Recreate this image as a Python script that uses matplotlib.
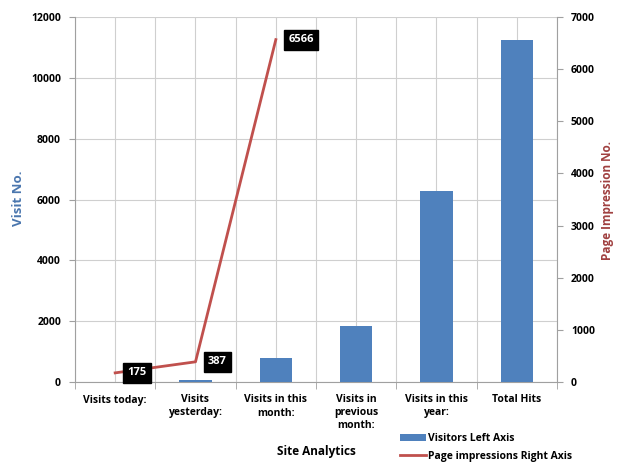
import matplotlib
matplotlib.use("Agg")
import matplotlib.pyplot as plt
import numpy as np

plt.rcParams['font.family'] = ['Open Sans', 'DejaVu Sans']
plt.rcParams['font.weight'] = 'bold'

categories = ["Visits today:", "Visits\nyesterday:", "Visits in this\nmonth:",
              "Visits in\nprevious\nmonth:", "Visits in this\nyear:", "Total Hits"]
visits = [0, 55, 780, 1830, 6270, 11230]
impressions = [175, 387, 6566]

bar_color = '#4F81BD'
line_color = '#C0504D'
grid_color = '#cfcfcf'
axis_color = '#a0a0a0'

fig = plt.figure(figsize=(6.18, 4.63), dpi=100)
ax = fig.add_axes([75/618, 1-382/463, (557-75)/618, (382-17)/463])
ax2 = ax.twinx()

x = np.arange(len(categories))
bars = ax.bar(x, visits, width=0.4, color=bar_color, zorder=3,
              label='Visitors Left Axis')
ax.set_xlim(-0.5, len(categories) - 0.5)
ax.set_ylim(0, 12000)
ax.set_yticks(range(0, 12001, 2000))

ax.set_xticks(x)
ax.set_xticklabels(categories, fontsize=7.5, fontweight='bold', linespacing=1.25)
ax.set_xticks(np.arange(-0.5, len(categories), 1), minor=True)
ax.tick_params(axis='x', which='major', length=0, pad=9)
ax.tick_params(axis='x', which='minor', length=5, color=axis_color, direction='out')
ax.tick_params(axis='y', length=4, color=axis_color, labelsize=7.5, pad=6)
ax.grid(True, axis='both', which='both', color=grid_color, linewidth=0.8, zorder=0)
ax.set_axisbelow(True)

for s in ['top', 'right']:
    ax.spines[s].set_visible(False)
for s in ['left', 'bottom']:
    ax.spines[s].set_color(axis_color)

fig.text(18/618, 1-198/463, 'Visit No.', rotation=90, ha='center', va='center',
         color='#4a76ae', fontsize=9.5, fontweight='bold')

line, = ax2.plot(x[:len(impressions)], impressions, color=line_color, linewidth=2,
                 zorder=4, label='Page impressions Right Axis')
ax2.set_ylim(0, 7000)
ax2.set_yticks(range(0, 7001, 1000))
ax2.tick_params(axis='y', length=4, color=axis_color, labelsize=7.5, pad=6)
for s in ['top', 'left', 'bottom']:
    ax2.spines[s].set_visible(False)
ax2.spines['right'].set_color(axis_color)
fig.text(608/618, 1-200/463, 'Page Impression No.', rotation=90, ha='center',
         va='center', color='#a04040', fontsize=8.5, fontweight='bold')

for xi, v in zip(x, impressions):
    ax2.annotate(str(v), (xi, v), xytext=(9, 0), textcoords='offset points',
                 ha='left', va='center', color='white', fontsize=8,
                 fontweight='bold', zorder=6,
                 bbox=dict(boxstyle='square,pad=0.4', fc='black', ec='black'))

fig.text(316/618, 1-451/463, 'Site Analytics', ha='center', va='center',
         fontsize=8.5, fontweight='bold')

fig.legend(handles=[bars, line], loc='upper left',
           bbox_to_anchor=(395/618, 1-428/463), frameon=False,
           fontsize=7.5, handlelength=2.5, handletextpad=0.2,
           labelspacing=0.65, borderpad=0)

fig.savefig('out.png', dpi=100)
